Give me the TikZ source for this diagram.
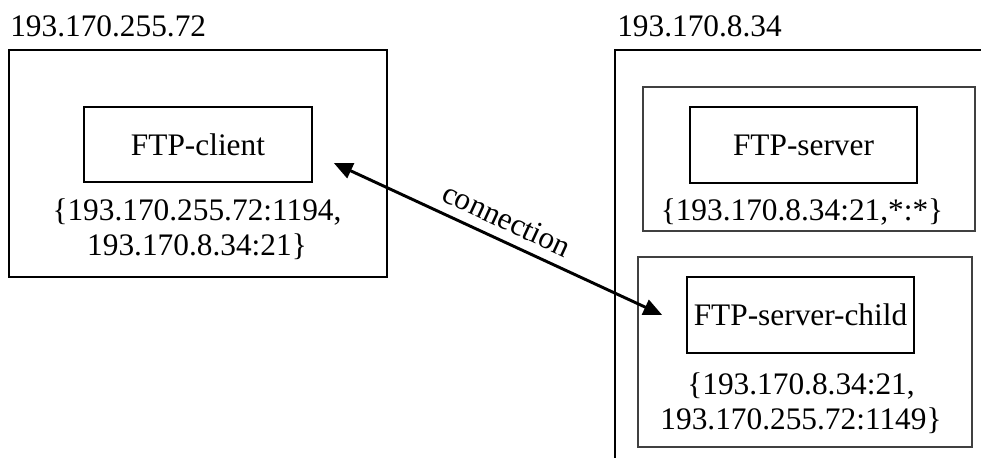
\documentclass[tikz,border=0pt]{standalone}
\usepackage{fontspec}
\setmainfont{Liberation Serif}
\usetikzlibrary{arrows.meta}
\begin{document}
\begin{tikzpicture}[x=0.75pt,y=-0.75pt,
  every node/.style={font=\fontsize{23.5pt}{26pt}\selectfont, inner sep=0pt},
  host/.style={draw, line width=1.4pt, rectangle},
  group/.style={draw=black!75, line width=0.8pt, rectangle},
  proc/.style={draw, line width=1.2pt, rectangle},
  addr/.style={align=center},
  link/.style={line width=2.2pt, {Triangle[length=14pt,width=12pt]}-{Triangle[length=14pt,width=12pt]}}]
  \useasboundingbox (0,0) rectangle (981,466);

  % client host
  \node[anchor=west] (ipA) at (10,26.5) {193.170.255.72};
  \node[host, minimum width=283.5pt, minimum height=170.25pt] (hostA) at (198,163.5) {};
  \node[proc, minimum width=171pt, minimum height=56.25pt] (client) at (198,144.5) {FTP-client};
  \node[addr] (clientaddr) at (197,229) {\{193.170.255.72:1194,\\193.170.8.34:21\}};

  % server host (open on the right and bottom)
  \node[anchor=west] (ipB) at (617,26.5) {193.170.8.34};
  \coordinate (hostBtr) at (981,50);
  \coordinate (hostBtl) at (615,50);
  \coordinate (hostBbl) at (615,458);
  \draw[line width=1.4pt] (hostBtr) -- (hostBtl) -- (hostBbl);

  \node[group, minimum width=249pt, minimum height=108pt] (servergrp) at (809,159) {};
  \node[proc, minimum width=170.25pt, minimum height=57pt] (server) at (803.5,145) {FTP-server};
  \node[addr] (serveraddr) at (802,212) {\{193.170.8.34:21,*:*\}};

  \node[group, minimum width=250.5pt, minimum height=142.5pt] (childgrp) at (805,352) {};
  \node[proc, minimum width=170.25pt, minimum height=57pt] (child) at (800.5,315) {FTP-server-child};
  \node[addr] (childaddr) at (801,403) {\{193.170.8.34:21,\\193.170.255.72:1149\}};

  % connection between client and child
  \coordinate (ca) at ([shift={(21,18.5)}]client.east);
  \coordinate (cb) at ([xshift=-18]child.west);
  \draw[link] (ca) -- node[midway, sloped, above=7pt] {connection} (cb);
\end{tikzpicture}
\end{document}
